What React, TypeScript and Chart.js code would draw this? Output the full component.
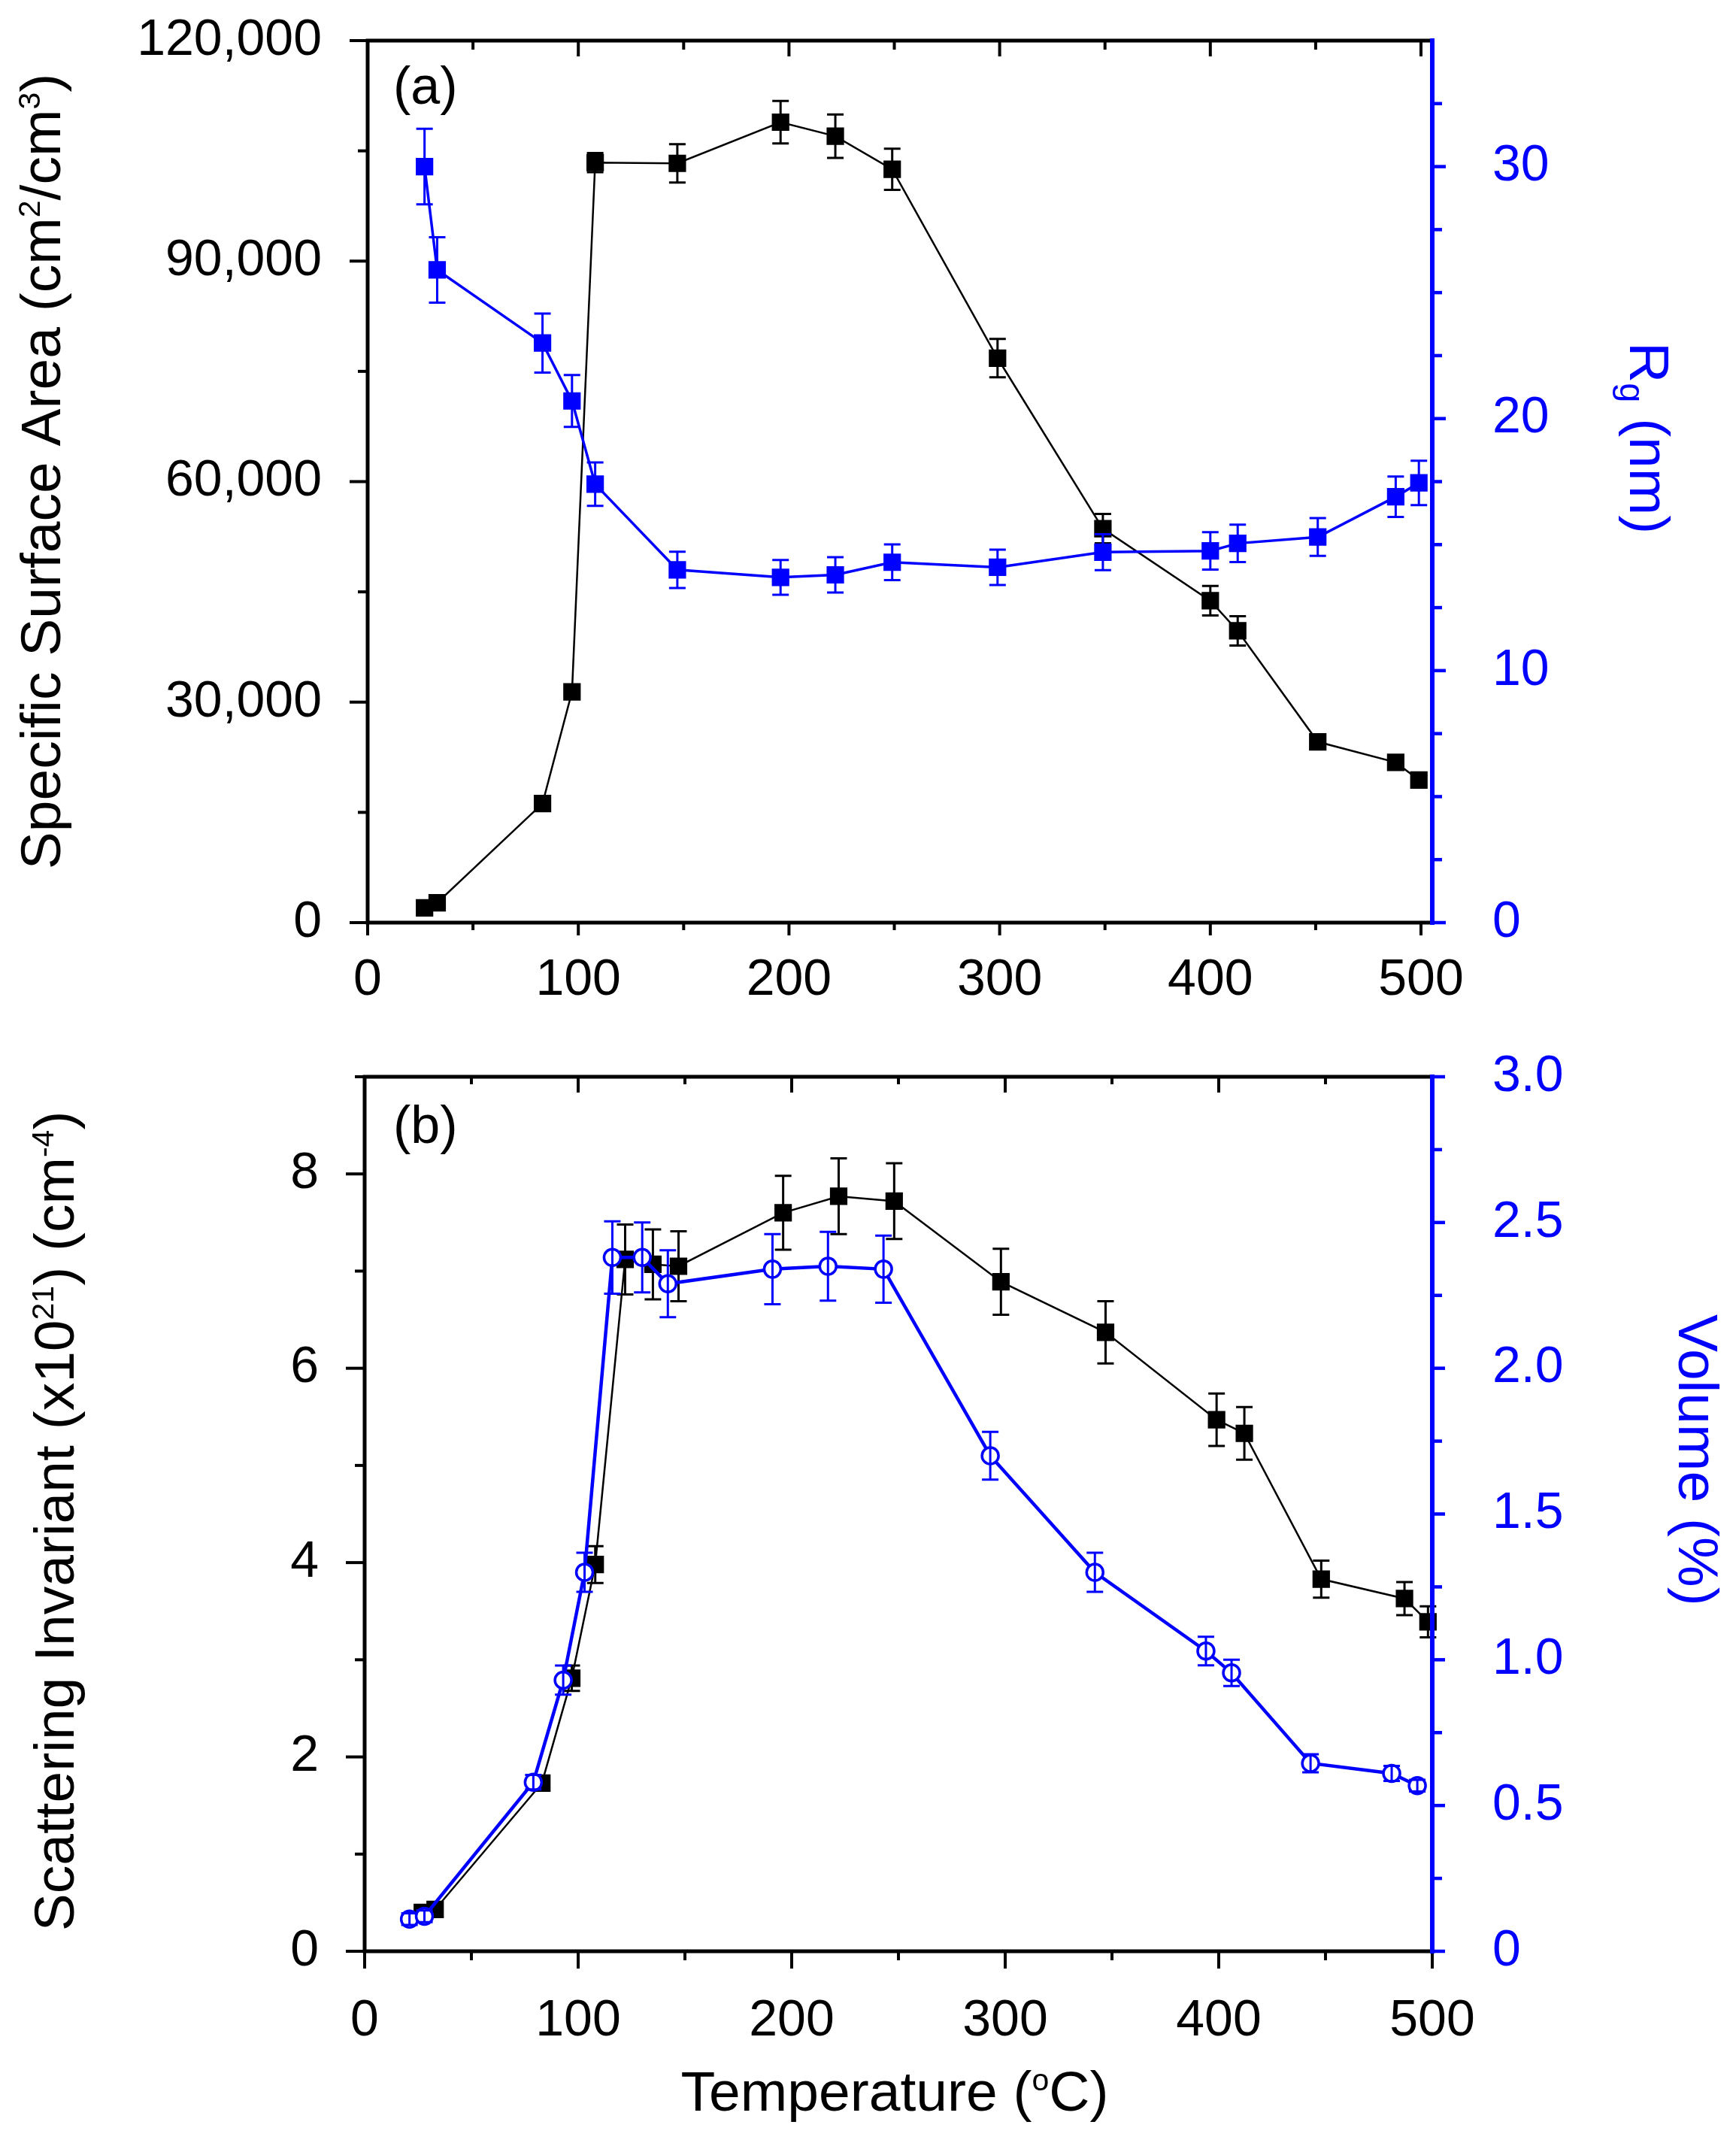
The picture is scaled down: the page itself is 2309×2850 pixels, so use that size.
import { useEffect, useRef } from 'react';
import { Chart, registerables } from 'chart.js';

Chart.register(...registerables);

const FONT = "'Liberation Sans', Arial, sans-serif";
const BLUE = '#0000ff';
const W = 2309;

// ---- panel (a): specific surface area + radius of gyration ----
const tempA = [27, 33, 83, 97, 108, 147, 196, 222, 249, 299, 349, 400, 413, 451, 488, 499];
const ssa = [2000, 2700, 16200, 31400, 103400, 103300, 108900, 107000, 102500, 76800, 53600, 43800, 39700, 24600, 21800, 19400];
const ssaErr = [300, 300, 400, 500, 1300, 2600, 2900, 2950, 2800, 2600, 2000, 2000, 2000, 900, 600, 600];
const rg = [30.0, 25.9, 23.0, 20.7, 17.4, 14.0, 13.7, 13.8, 14.3, 14.1, 14.7, 14.75, 15.05, 15.3, 16.9, 17.45];
const rgErr = [1.5, 1.3, 1.17, 1.03, 0.86, 0.72, 0.69, 0.7, 0.71, 0.7, 0.71, 0.74, 0.74, 0.75, 0.8, 0.88];

// ---- panel (b): scattering invariant + volume ----
const tempInv = [27, 33, 83, 97, 108, 122, 135, 147, 196, 222, 248, 298, 347, 399, 412, 448, 487, 498];
const inv = [0.4, 0.43, 1.73, 2.81, 3.98, 7.12, 7.07, 7.05, 7.6, 7.77, 7.72, 6.89, 6.37, 5.47, 5.33, 3.83, 3.63, 3.39];
const invErr = [0.03, 0.03, 0.05, 0.13, 0.19, 0.36, 0.36, 0.36, 0.38, 0.39, 0.39, 0.34, 0.32, 0.27, 0.27, 0.19, 0.17, 0.16];
const tempVol = [21, 28, 79, 93, 103, 116, 130, 142, 191, 217, 243, 293, 342, 394, 406, 443, 481, 493];
const vol = [0.11, 0.12, 0.58, 0.93, 1.3, 2.38, 2.38, 2.29, 2.34, 2.35, 2.34, 1.7, 1.3, 1.03, 0.955, 0.645, 0.61, 0.568];
const volErr = [0.02, 0.02, 0.025, 0.05, 0.067, 0.124, 0.12, 0.115, 0.12, 0.118, 0.115, 0.082, 0.067, 0.049, 0.045, 0.031, 0.026, 0.02];

// ---- ticks ----
const xTicks = [0, 100, 200, 300, 400, 500];
const xMinor = [50, 150, 250, 350, 450];
const ssaTicks = [0, 30000, 60000, 90000, 120000];
const ssaMinor = [15000, 45000, 75000, 105000];
const rgTicks = [0, 10, 20, 30];
const rgMinor = [2.5, 5, 7.5, 12.5, 15, 17.5, 22.5, 25, 27.5, 32.5];
const invTicks = [0, 2, 4, 6, 8];
const invMinor = [1, 3, 5, 7, 9];
const volTicks = [0, 0.5, 1, 1.5, 2, 2.5, 3];
const volMinor = [0.25, 0.75, 1.25, 1.75, 2.25, 2.75];

type Run = { t: string; sup?: boolean; sub?: boolean };

function drawRich(ctx: CanvasRenderingContext2D, runs: Run[], x: number, y: number, angle: number, size: number, color: string, align: 'center' | 'left') {
  ctx.save();
  ctx.translate(x, y);
  ctx.rotate(angle);
  ctx.fillStyle = color;
  ctx.textBaseline = 'alphabetic';
  ctx.textAlign = 'left';
  const fontOf = (r: Run) => `${Math.round(r.sup ? size * 0.55 : r.sub ? size * 0.62 : size)}px ${FONT}`;
  let total = 0;
  for (const r of runs) {
    ctx.font = fontOf(r);
    total += ctx.measureText(r.t).width;
  }
  let cx = align === 'center' ? -total / 2 : 0;
  for (const r of runs) {
    ctx.font = fontOf(r);
    const dy = r.sup ? -size * 0.36 : r.sub ? size * 0.18 : 0;
    ctx.fillText(r.t, cx, dy);
    cx += ctx.measureText(r.t).width;
  }
  ctx.restore();
}

type TickSet = { major: number[]; minor: number[]; majLen: number; minLen: number };

type Spec = {
  x: TickSet;
  top: TickSet;
  left: TickSet;
  right: TickSet;
  texts: (ctx: CanvasRenderingContext2D) => void;
};

function makePlugin(spec: Spec) {
  return {
    id: 'frame',
    afterDatasetDraw(chart: any, args: any) {
      const ds = chart.data.datasets[args.index];
      if (!ds.errors) return;
      const ctx = chart.ctx;
      const yScale = chart.scales[args.meta.yAxisID];
      ctx.save();
      ctx.strokeStyle = ds.borderColor;
      ctx.lineWidth = 3;
      args.meta.data.forEach((pt: any, i: number) => {
        const v = ds.data[i].y;
        const e = ds.errors[i];
        const y1 = yScale.getPixelForValue(v + e);
        const y2 = yScale.getPixelForValue(v - e);
        ctx.beginPath();
        ctx.moveTo(pt.x, y1);
        ctx.lineTo(pt.x, y2);
        ctx.moveTo(pt.x - 11, y1);
        ctx.lineTo(pt.x + 11, y1);
        ctx.moveTo(pt.x - 11, y2);
        ctx.lineTo(pt.x + 11, y2);
        ctx.stroke();
      });
      ctx.restore();
    },
    afterDraw(chart: any) {
      const ctx: CanvasRenderingContext2D = chart.ctx;
      const { left: L, right: R, top: T, bottom: B } = chart.chartArea;
      const xs = chart.scales.x;
      const ys = chart.scales.y;
      const y1s = chart.scales.y1;
      ctx.save();
      ctx.lineCap = 'butt';

      const hTicks = (set: TickSet, yy: number, dir: number) => {
        set.major.forEach((v) => {
          const px = xs.getPixelForValue(v);
          ctx.beginPath();
          ctx.moveTo(px, yy);
          ctx.lineTo(px, yy + dir * set.majLen);
          ctx.stroke();
        });
        set.minor.forEach((v) => {
          const px = xs.getPixelForValue(v);
          ctx.beginPath();
          ctx.moveTo(px, yy);
          ctx.lineTo(px, yy + dir * set.minLen);
          ctx.stroke();
        });
      };
      const vTicks = (set: TickSet, scale: any, xx: number, dir: number) => {
        set.major.forEach((v) => {
          const py = scale.getPixelForValue(v);
          ctx.beginPath();
          ctx.moveTo(xx, py);
          ctx.lineTo(xx + dir * set.majLen, py);
          ctx.stroke();
        });
        set.minor.forEach((v) => {
          const py = scale.getPixelForValue(v);
          ctx.beginPath();
          ctx.moveTo(xx, py);
          ctx.lineTo(xx + dir * set.minLen, py);
          ctx.stroke();
        });
      };

      // black frame
      ctx.strokeStyle = '#000';
      ctx.lineWidth = 5;
      ctx.beginPath();
      ctx.moveTo(L, T - 2.5);
      ctx.lineTo(L, B + 2.5);
      ctx.moveTo(L, B);
      ctx.lineTo(R, B);
      ctx.moveTo(L, T);
      ctx.lineTo(R, T);
      ctx.stroke();
      ctx.lineWidth = 4;
      hTicks(spec.x, B, 1);
      hTicks(spec.top, T, 1);
      vTicks(spec.left, ys, L, -1);

      // blue right axis
      ctx.strokeStyle = BLUE;
      ctx.lineWidth = 6;
      ctx.beginPath();
      ctx.moveTo(R, T - 3);
      ctx.lineTo(R, B + 3);
      ctx.stroke();
      ctx.lineWidth = 4.5;
      vTicks(spec.right, y1s, R, 1);

      spec.texts(ctx);
      ctx.restore();
    },
  };
}

const tickFont = { family: FONT, size: 68, lineHeight: 1 };

function scaleOpts(min: number, max: number, ticks: number[], size: { w?: number; h?: number }, color: string, padding: number, fmt: (v: number) => string, position?: string) {
  return {
    type: 'linear',
    position,
    min,
    max,
    afterBuildTicks: (axis: any) => {
      axis.ticks = ticks.map((value) => ({ value }));
    },
    afterFit: (axis: any) => {
      if (size.w !== undefined) axis.width = size.w;
      if (size.h !== undefined) axis.height = size.h;
      // keep the plot area where the layout puts it
      axis.paddingTop = 0;
      axis.paddingBottom = 0;
      axis.paddingLeft = 0;
      axis.paddingRight = 0;
    },
    grid: { display: false, drawTicks: false },
    border: { display: false },
    ticks: {
      font: tickFont,
      color,
      padding,
      autoSkip: false,
      maxRotation: 0,
      callback: (v: any) => fmt(Number(v)),
    },
  };
}

function lineSet(label: string, xs: number[], ys: number[], errs: number[], axis: string, color: string, style: string, filled: boolean, width: number) {
  return {
    label,
    data: xs.map((x, i) => ({ x, y: ys[i] })),
    errors: errs,
    yAxisID: axis,
    borderColor: color,
    backgroundColor: color,
    borderWidth: width,
    tension: 0,
    pointStyle: style,
    pointRadius: style === 'rect' ? 15 : 11,
    pointBorderWidth: style === 'rect' ? 2 : 3.5,
    pointBackgroundColor: filled ? color : '#ffffff',
    pointBorderColor: color,
    clip: false,
  };
}

const HA = 1360;
const HB = 1490;
const OFF_B = 1360;

function configA(): any {
  return {
    type: 'line',
    data: {
      datasets: [
        lineSet('Rg', tempA, rg, rgErr, 'y1', BLUE, 'rect', true, 3.5),
        lineSet('Specific Surface Area', tempA, ssa, ssaErr, 'y', '#000000', 'rect', true, 2.5),
      ],
    },
    options: {
      animation: false,
      responsive: false,
      devicePixelRatio: 1,
      events: [],
      layout: { padding: { top: 54, left: 0, right: 0, bottom: 0 } },
      plugins: { legend: { display: false }, tooltip: { enabled: false } },
      scales: {
        x: scaleOpts(0, 505.35, xTicks, { h: HA - 1227 }, '#000', 43, (v) => String(v)),
        y: scaleOpts(0, 120000, ssaTicks, { w: 489 }, '#000', 61, (v) => v.toLocaleString('en-US'), 'left'),
        y1: scaleOpts(0, 35, rgTicks, { w: W - 1905 }, BLUE, 80, (v) => String(v), 'right'),
      },
    },
    plugins: [
      makePlugin({
        x: { major: xTicks, minor: xMinor, majLen: 17, minLen: 10 },
        top: { major: xTicks, minor: xMinor, majLen: 21, minLen: 12 },
        left: { major: ssaTicks, minor: ssaMinor, majLen: 24, minLen: 13 },
        right: { major: rgTicks, minor: rgMinor, majLen: 18, minLen: 13 },
        texts: (ctx) => {
          ctx.fillStyle = '#000';
          ctx.font = `70px ${FONT}`;
          ctx.textAlign = 'left';
          ctx.textBaseline = 'alphabetic';
          ctx.fillText('(a)', 523, 138);
          drawRich(ctx, [{ t: 'Specific Surface Area (cm' }, { t: '2', sup: true }, { t: '/cm' }, { t: '3', sup: true }, { t: ')' }], 80, 627, -Math.PI / 2, 75, '#000', 'center');
          drawRich(ctx, [{ t: 'R' }, { t: 'g', sub: true }, { t: ' (nm)' }], 2168, 455, Math.PI / 2, 75, BLUE, 'left');
        },
      }),
    ],
  };
}

function configB(): any {
  return {
    type: 'line',
    data: {
      datasets: [
        lineSet('Volume', tempVol, vol, volErr, 'y1', BLUE, 'circle', false, 4.5),
        lineSet('Scattering Invariant', tempInv, inv, invErr, 'y', '#000000', 'rect', true, 2.5),
      ],
    },
    options: {
      animation: false,
      responsive: false,
      devicePixelRatio: 1,
      events: [],
      layout: { padding: { top: 1432 - OFF_B, left: 0, right: 0, bottom: 0 } },
      plugins: { legend: { display: false }, tooltip: { enabled: false } },
      scales: {
        x: scaleOpts(0, 500, xTicks, { h: HB - (2595 - OFF_B) }, '#000', 59, (v) => String(v)),
        y: scaleOpts(0, 9, invTicks, { w: 485 }, '#000', 61, (v) => String(v), 'left'),
        y1: scaleOpts(0, 3, volTicks, { w: W - 1905 }, BLUE, 80, (v) => (v === 0 ? '0' : v.toFixed(1)), 'right'),
      },
    },
    plugins: [
      makePlugin({
        x: { major: xTicks, minor: xMinor, majLen: 23, minLen: 12 },
        top: { major: xTicks, minor: xMinor, majLen: 21, minLen: 10 },
        left: { major: invTicks, minor: invMinor, majLen: 25, minLen: 13 },
        right: { major: volTicks, minor: volMinor, majLen: 17, minLen: 13 },
        texts: (ctx) => {
          ctx.fillStyle = '#000';
          ctx.font = `70px ${FONT}`;
          ctx.textAlign = 'left';
          ctx.textBaseline = 'alphabetic';
          ctx.fillText('(b)', 523, 1520 - OFF_B);
          drawRich(ctx, [{ t: 'Scattering Invariant (x10' }, { t: '21', sup: true }, { t: ') (cm' }, { t: '-4', sup: true }, { t: ')' }], 98, 2023 - OFF_B, -Math.PI / 2, 75, '#000', 'center');
          drawRich(ctx, [{ t: 'Volume (%)' }], 2233, 1748 - OFF_B, Math.PI / 2, 75, BLUE, 'left');
          drawRich(ctx, [{ t: 'Temperature (' }, { t: 'o', sup: true }, { t: 'C)' }], 1190, 2807 - OFF_B, 0, 75, '#000', 'center');
        },
      }),
    ],
  };
}

function Panel({ make, top, height }: { make: () => any; top: number; height: number }) {
  const canvas = useRef<HTMLCanvasElement | null>(null);

  useEffect(() => {
    if (!canvas.current) return;
    const chart = new Chart(canvas.current, make());
    return () => chart.destroy();
  }, [canvas]);

  return (
    <canvas
      ref={canvas}
      width={W}
      height={height}
      style={{ position: 'absolute', left: 0, top, width: W, height }}
    ></canvas>
  );
}

export default function App() {
  return (
    <div style={{ position: 'absolute', left: 0, top: 0, width: W, height: 2850, background: '#fff' }}>
      <Panel make={configA} top={0} height={HA} />
      <Panel make={configB} top={OFF_B} height={HB} />
    </div>
  );
}
